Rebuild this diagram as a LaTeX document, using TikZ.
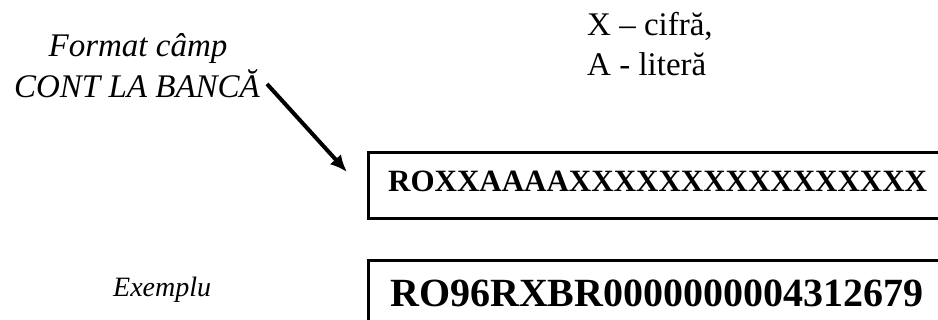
\documentclass[tikz,border=0pt]{standalone}
\usepackage{fontspec}
\setmainfont{Liberation Serif}
\usetikzlibrary{arrows.meta}
\tikzset{
  label/.style={inner sep=0pt, font=\fontsize{33}{41}\selectfont\itshape},
  legend/.style={inner sep=0pt, anchor=base west, font=\fontsize{33}{40}\selectfont},
  fieldbox/.style={draw, line width=3pt, inner sep=0pt, anchor=north west, minimum width=590pt},
  code/.style={inner sep=0pt, anchor=base west, font=\bfseries},
  pointer/.style={line width=4pt, -{Latex[length=17pt,width=15pt]}}
}
\begin{document}
\begin{tikzpicture}[x=1pt,y=-1pt]
  \useasboundingbox (0,0) rectangle (938,320);
  \clip (0,0) rectangle (938,320);
  \fill[white] (0,0) rectangle (938,320);

  % field caption
  \node[label, align=center, anchor=base] (cap1) at (138,57) {Format câmp};
  \node[label, anchor=base] (cap2) at (137,98) {CONT LA BANCĂ};

  % legend
  \node[legend] (legx) at (587,36) {X – cifră,};
  \node[legend] (lega) at (587,76) {A - literă};

  % format box
  \node[fieldbox, minimum height=66pt] (fmtbox) at (367,151) {};
  \node[code, font=\fontsize{31}{31}\selectfont\bfseries] (fmt) at (388,192) {ROXXAAAAXXXXXXXXXXXXXXXX};

  % example box
  \node[fieldbox, minimum height=80pt] (exbox) at (367,259) {};
  \node[code, font=\fontsize{40}{40}\selectfont\bfseries] (ex) at (390,307) {RO96RXBR0000000004312679};

  \node[label, font=\fontsize{28}{28}\selectfont\itshape, anchor=base west] (exlbl) at (113,297) {Exemplu};

  % pointer from caption to format box
  \coordinate (arrS) at (267,84);
  \coordinate (arrE) at (347,172);
  \draw[pointer] (arrS) -- (arrE);
\end{tikzpicture}
\end{document}
